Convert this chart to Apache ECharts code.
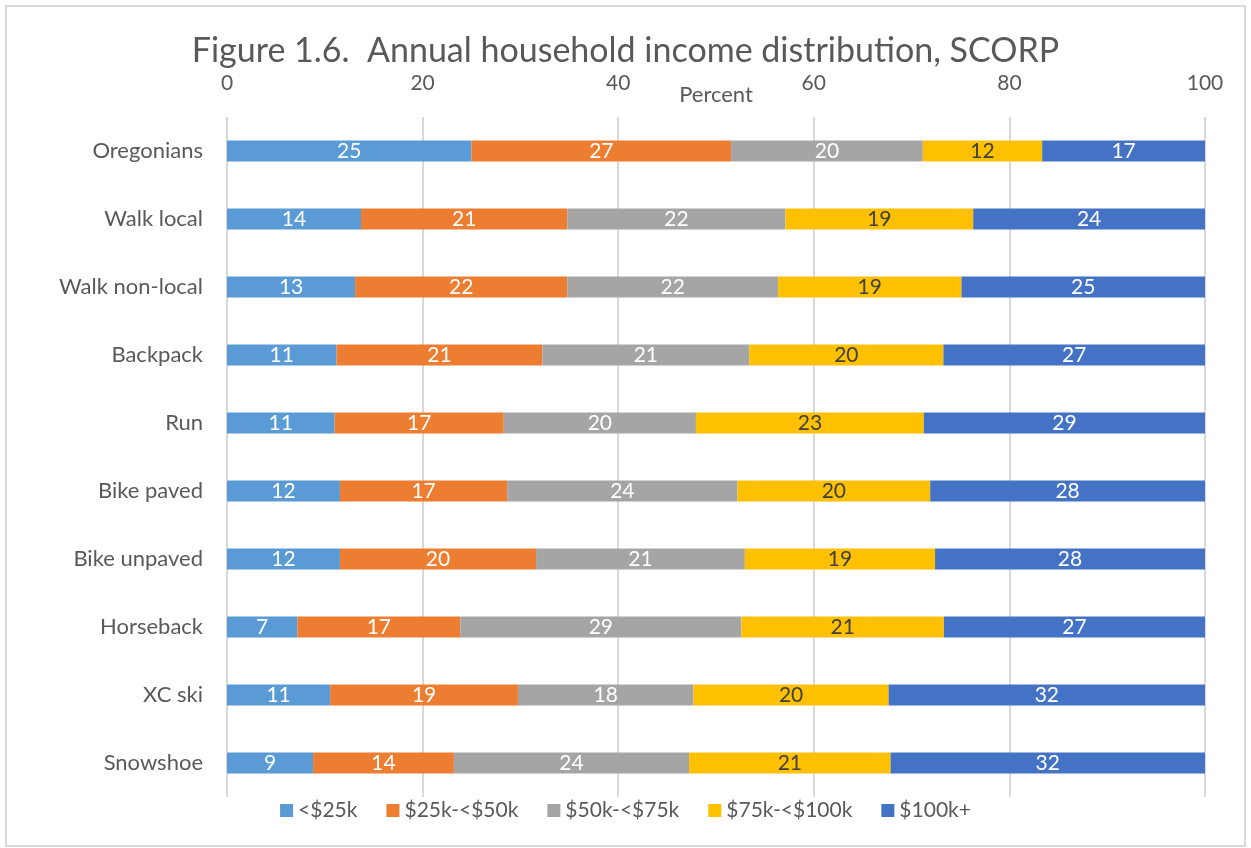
<!DOCTYPE html>
<html>
<head>
<meta charset="utf-8">
<title>Annual household income distribution, SCORP</title>
<script src="https://cdn.jsdelivr.net/npm/echarts@6/dist/echarts.min.js"></script>
<style>
  html, body { margin: 0; padding: 0; background: #fff; }
  #chart { width: 1251px; height: 848px; }
</style>
</head>
<body>
<div id="chart"></div>
<script>
// activities, top to bottom
var categories = ['Oregonians', 'Walk local', 'Walk non-local', 'Backpack', 'Run',
  'Bike paved', 'Bike unpaved', 'Horseback', 'XC ski', 'Snowshoe'];

// percent of respondents per income group
var under25 = [25.0, 13.7, 13.1, 11.2, 11.0, 11.55, 11.55, 7.2, 10.55, 8.8];
var from25to50 = [26.55, 21.1, 21.7, 21.05, 17.3, 17.1, 20.05, 16.65, 19.2, 14.4];
var from50to75 = [19.6, 22.3, 21.55, 21.15, 19.65, 23.55, 21.35, 28.75, 17.95, 24.05];
var from75to100 = [12.2, 19.2, 18.75, 19.85, 23.3, 19.7, 19.45, 20.7, 19.95, 20.6];
var over100 = [16.65, 23.7, 24.9, 26.75, 28.75, 28.1, 27.6, 26.7, 32.35, 32.15];

var xTicks = [0, 20, 40, 60, 80, 100];

var font = 'Lato, "Open Sans", sans-serif';

function makeSeries(name, data, color, labelColor) {
  return {
    name: name,
    type: 'bar',
    stack: 'total',
    barWidth: 21,
    data: data,
    itemStyle: { color: color },
    label: {
      show: true,
      position: 'inside',
      color: labelColor,
      fontFamily: font,
      fontSize: 21,
      formatter: function (p) { return Math.round(p.value); }
    },
    emphasis: { disabled: true }
  };
}

var chart = echarts.init(document.getElementById('chart'));

var option = {
  animation: false,
  textStyle: { fontFamily: font },
  title: {
    text: 'Figure 1.6.  Annual household income distribution, SCORP',
    left: 'center',
    top: 29,
    textStyle: { fontFamily: font, fontSize: 34, fontWeight: 'normal', color: '#595959' }
  },
  graphic: [{
    type: 'rect',
    shape: { x: 6, y: 6, width: 1239, height: 840 },
    style: { fill: 'none', stroke: '#d9d9d9', lineWidth: 2 },
    silent: true
  }],
  legend: {
    bottom: 22,
    left: 'center',
    itemWidth: 13,
    itemHeight: 13,
    itemGap: 29,
    icon: 'rect',
    textStyle: { fontFamily: font, fontSize: 21, color: '#595959' }
  },
  grid: { left: 227, right: 46, top: 117, bottom: 51 },
  xAxis: {
    type: 'value',
    position: 'top',
    min: xTicks[0],
    max: xTicks[xTicks.length - 1],
    interval: 20,
    name: 'Percent',
    nameLocation: 'middle',
    nameGap: 11,
    nameMoveOverlap: false,
    nameTextStyle: { fontFamily: font, fontSize: 22, color: '#595959', verticalAlign: 'bottom' },
    axisLine: { show: false },
    axisTick: { show: false },
    axisLabel: { fontFamily: font, fontSize: 21, color: '#595959', margin: 23 },
    splitLine: { lineStyle: { color: '#d9d9d9', width: 2 } }
  },
  yAxis: {
    type: 'category',
    inverse: true,
    data: categories,
    axisLine: { show: false },
    axisTick: { show: false },
    axisLabel: { fontFamily: font, fontSize: 22, color: '#595959', margin: 24 }
  },
  series: [
    makeSeries('<$25k', under25, '#5B9BD5', '#ffffff'),
    makeSeries('$25k-<$50k', from25to50, '#ED7D31', '#ffffff'),
    makeSeries('$50k-<$75k', from50to75, '#A5A5A5', '#ffffff'),
    makeSeries('$75k-<$100k', from75to100, '#FFC000', '#404040'),
    makeSeries('$100k+', over100, '#4472C4', '#ffffff')
  ]
};

chart.setOption(option);
</script>
</body>
</html>
